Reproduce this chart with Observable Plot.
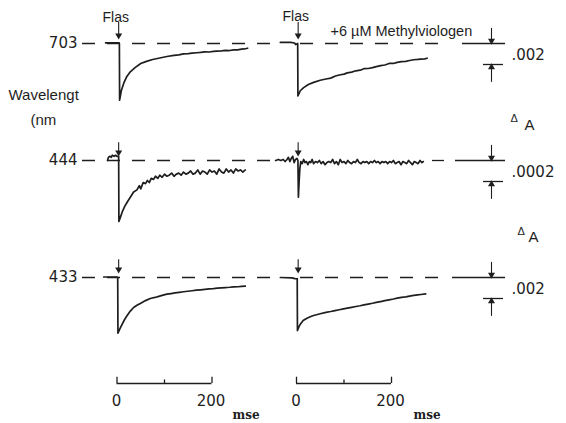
<!DOCTYPE html>
<html><head><meta charset="utf-8">
<script src="https://cdn.jsdelivr.net/npm/d3@7"></script>
<script src="https://cdn.jsdelivr.net/npm/@observablehq/plot@0.6"></script>
<style>
html,body{margin:0;padding:0;background:#fff;}
#chart svg{display:block;background:#fff;}
</style></head>
<body><div id="chart"></div>
<script>
// ---------------- DATA ----------------
const wavelengths = ["703", "444", "433"];
const scaleValues = [0.002, 0.0002, 0.002];
const scaleLabels = [".002", ".0002", ".002"];
const timeTicks = [0, 100, 200];
const timeLabels = ["0", "", "200"];
const flashLabel = "Flas";
const conditionLabel = "+6 µM Methylviologen";
const yTitle = ["Wavelengt", "(nm"];
const unitLabel = "mse";

// 703 nm, control (ms, ΔA)
const t703C  = [-24,-12,0,4.5,5,5.5,9,14,20,28,38,50,62,75,90,105,120,130,140,150,158,168,176,185,194,203,211,220,228,237,246,254,262,268,275];
const dA703C = [0.00006,0.00006,0.00006,0.00006,0,-0.0054,-0.0045,-0.0038,-0.0032,-0.0027,-0.0023,-0.0019,-0.0017,-0.00152,-0.00138,-0.00124,-0.00113,-0.00108,-0.00099,-0.00096,-0.00092,-0.00088,-0.00085,-0.00079,-0.00081,-0.00075,-0.00072,-0.00071,-0.00066,-0.00067,-0.0006,-0.00061,-0.00054,-0.00052,-0.00045];
// 703 nm, + methylviologen
const t703M  = [-34,-12,-4,-2,2.5,3,8,15,25,36,50,62,72,82,90,100,107,116,125,134,142,151,160,168,177,186,195,204,212,221,230,238,247,255,262,270,275];
const dA703M = [0.0001,0.0001,0.00005,-0.0001,0,-0.0050,-0.0045,-0.0042,-0.0039,-0.0037,-0.0035,-0.00338,-0.0033,-0.0031,-0.0030,-0.00292,-0.0028,-0.00272,-0.0026,-0.00254,-0.0024,-0.00238,-0.0023,-0.0022,-0.0021,-0.00205,-0.0019,-0.0019,-0.0018,-0.00172,-0.0017,-0.00162,-0.00155,-0.00152,-0.00148,-0.00146,-0.0014];
// 444 nm, control
const t444C  = [-20,-18,-15,-12,-10,-6,-3,0,3.5,4,8,11,16,21,28,35,42,47,50,55,60,64,68,72,77,81,86,90,95,100,105,110,115,120,125,130,135,140,145,150,155,160,165,170,175,180,185,190,195,200,205,210,215,220,225,230,235,240,245,250,255,260,265,270];
const dA444C = [0,0.00003,0.00004,0.00003,0.00005,0.00004,0.00005,0.00004,0.00004,-0.00058,-0.00053,-0.00049,-0.00044,-0.00040,-0.00035,-0.00030,-0.00028,-0.00024,-0.00027,-0.00021,-0.00022,-0.00019,-0.00021,-0.00017,-0.00018,-0.00015,-0.00017,-0.00014,-0.00016,-0.00013,-0.00015,-0.00014,-0.00012,-0.00015,-0.00013,-0.00012,-0.00014,-0.00011,-0.00013,-0.00012,-0.00010,-0.00013,-0.00012,-0.00009,-0.00013,-0.00010,-0.00011,-0.00013,-0.00009,-0.00011,-0.00010,-0.00013,-0.00008,-0.00011,-0.00012,-0.00008,-0.00011,-0.00009,-0.00012,-0.00008,-0.00010,-0.00009,-0.00011,-0.00009];
// 444 nm, + methylviologen
const t444M  = [-44,-38,-33,-28,-24,-20,-17,-14,-11,-8,-5,-2,1,3,4,5.5,7,9,12,15,18,21,24,27,30,33,36,40,44,48,52,56,60,64,68,72,76,80,84,88,92,96,100,104,108,112,116,120,124,128,132,136,140,144,148,152,156,160,164,168,172,176,180,184,188,192,196,200,204,208,212,216,220,224,228,232,236,240,244,248,252,256,260,264,267];
const dA444M = [0,0.00001,0,0.00001,-0.00001,0.00001,0.00003,-0.00001,0.00002,0.00004,-0.00002,0.00001,0.00002,0,-0.00035,-0.0002,-0.00008,-0.00001,-0.00003,0.00001,-0.00002,-0.00001,-0.00004,-0.00001,-0.00002,0.00001,-0.00003,-0.00001,-0.00002,0,-0.00003,-0.00001,-0.00004,-0.00002,-0.00001,-0.00002,0.00001,-0.00003,-0.00001,-0.00004,0.00001,-0.00002,-0.00001,-0.00003,0,-0.00002,-0.00003,-0.00001,-0.00002,0.00001,-0.00002,-0.00003,-0.00001,-0.00002,-0.00001,-0.00003,-0.00001,-0.00002,0,-0.00002,-0.00001,-0.00003,-0.00001,-0.00002,-0.00001,-0.00003,-0.00001,-0.00002,0,-0.00003,-0.00002,-0.00001,-0.00004,-0.00001,-0.00002,-0.00003,0,-0.00002,-0.00004,-0.00001,-0.00002,-0.00003,0,-0.00002,-0.00001];
// 433 nm, control
const t433C  = [-28,-12,0,1.5,2,6,11,16,21,28,35,42,50,60,70,80,88,97,105,114,122,131,140,149,158,167,176,185,194,203,211,220,228,237,246,255,262,270];
const dA433C = [0.00005,0.00005,0.00004,0,-0.0053,-0.0049,-0.00445,-0.0040,-0.00365,-0.0032,-0.00286,-0.00265,-0.00245,-0.0022,-0.0020,-0.0019,-0.0018,-0.00168,-0.00159,-0.00153,-0.00147,-0.00141,-0.00136,-0.00131,-0.00126,-0.00121,-0.00117,-0.00113,-0.00109,-0.00106,-0.00102,-0.00099,-0.00096,-0.00093,-0.00089,-0.00088,-0.00085,-0.00083];
// 433 nm, + methylviologen
const t433M  = [-34,-10,-3,1,1.5,2,5,8.4,14,22,30,36,50,62,72,81,90,99,107,116,125,134,142,151,160,168,177,186,195,204,212,221,230,238,247,255,262,272];
const dA433M = [0,-0.00003,-0.0001,-0.00012,-0.0001,-0.00505,-0.0047,-0.00442,-0.0041,-0.00388,-0.00372,-0.00362,-0.00345,-0.00332,-0.00324,-0.00315,-0.00307,-0.00299,-0.00292,-0.00284,-0.00276,-0.00269,-0.00261,-0.00253,-0.00245,-0.00237,-0.00229,-0.00221,-0.00213,-0.00205,-0.00197,-0.0019,-0.00184,-0.00177,-0.00171,-0.00166,-0.00162,-0.00156];

// ---------------- LAYOUT ----------------
const W = 566, H = 423;
const PX_PER_MS = 0.475, ORIGIN_PX = 116.5, PX_PER_UNIT = 21;
const RIGHT_ORIGIN_PX = 296;
const RIGHT_OFFSET = (RIGHT_ORIGIN_PX - ORIGIN_PX) / PX_PER_MS;
const ax = px => (px - ORIGIN_PX) / PX_PER_MS;   // page px -> x data (ms)
const ay = py => -py / PX_PER_UNIT;              // page px -> y data (scale units)
const rowBasePx = [43, 160, 277];
const rowBase = rowBasePx.map(ay);
const INK = "#1e1e1e";

const traceDefs = [
  [0, 0, t703C, dA703C], [0, 1, t703M, dA703M],
  [1, 0, t444C, dA444C], [1, 1, t444M, dA444M],
  [2, 0, t433C, dA433C], [2, 1, t433M, dA433M]
];
const traces = [];
traceDefs.forEach(([r, p, ts, ds], k) => {
  ts.forEach((t, i) => traces.push({
    id: k,
    x: t + (p ? RIGHT_OFFSET : 0),
    y: rowBase[r] + ds[i] / scaleValues[r]
  }));
});

// dashed baselines (segments per row)
const dashed = [];
const solidSeg = [];
rowBase.forEach((b, r) => {
  dashed.push({x1: ax(82), x2: ax(280), y: b});
  if (r === 1) dashed.push({x1: ax(432), x2: ax(444), y: b});
  else dashed.push({x1: ax(300), x2: ax(440), y: b});
  solidSeg.push({x1: ax(r === 0 ? 462 : r === 1 ? 455 : 452), x2: ax(505), y: b});
  solidSeg.push({x1: ax(483), x2: ax(503), y: b - 1});
});

// flash arrows
const flashShafts = [], flashHeads = [];
rowBase.forEach((b) => {
  [0, 1].forEach(p => {
    const x = 3.5 + (p ? RIGHT_OFFSET : 0);
    flashShafts.push({x, y1: b + (b === rowBase[0] ? 1.0 : 0.85), y2: b + 0.35});
    flashHeads.push({x, y: b + 0.38});
  });
});
// scale bar arrows
const sbShafts = [], sbDown = [], sbUp = [];
rowBase.forEach(b => {
  const x = ax(491);
  sbShafts.push({x, y1: b + 0.72, y2: b + 0.1});
  sbDown.push({x, y: b + 0.13});
  sbShafts.push({x, y1: b - 1.85, y2: b - 1.1});
  sbUp.push({x, y: b - 1.13});
});

// time scale bars
const barY = ay(383);
const timeBars = [0, RIGHT_OFFSET].map(o => ({x1: o + timeTicks[0], x2: o + timeTicks[2], y: barY}));
const timeTickMarks = [];
[0, RIGHT_OFFSET].forEach(o => timeTicks.forEach((t, i) =>
  timeTickMarks.push({x: o + t, y1: barY, y2: barY + (i === 1 ? 0.17 : 0.3)})));
const timeText = [];
[0, RIGHT_OFFSET].forEach(o => timeTicks.forEach((t, i) => {
  if (timeLabels[i]) timeText.push({x: o + t + (i === 2 ? -2 : -1), y: ay(401), text: timeLabels[i]});
}));

const txt = (data, opts) => Plot.text(data, {x: "x", y: "y", text: "text", fill: INK, ...opts});

const chart = Plot.plot({
  width: W, height: H, margin: 0,
  x: {domain: [ax(0), ax(W)], axis: null},
  y: {domain: [ay(H), ay(0)], axis: null},
  style: {background: "#fff"},
  marks: [
    Plot.ruleY(dashed, {x1: "x1", x2: "x2", y: "y", stroke: INK, strokeWidth: 1.3, strokeDasharray: "13,12"}),
    Plot.ruleY(solidSeg, {x1: "x1", x2: "x2", y: "y", stroke: INK, strokeWidth: 1.3}),
    Plot.line(traces, {x: "x", y: "y", z: "id", stroke: INK, strokeWidth: 1.7, curve: "linear"}),
    Plot.ruleX(flashShafts, {x: "x", y1: "y1", y2: "y2", stroke: INK, strokeWidth: 1.1}),
    Plot.dot(flashHeads, {x: "x", y: "y", symbol: "triangle", rotate: 180, r: 2.6, fill: INK}),
    Plot.ruleX(sbShafts, {x: "x", y1: "y1", y2: "y2", stroke: INK, strokeWidth: 1.1}),
    Plot.dot(sbDown, {x: "x", y: "y", symbol: "triangle", rotate: 180, r: 2.6, fill: INK}),
    Plot.dot(sbUp, {x: "x", y: "y", symbol: "triangle", r: 2.6, fill: INK}),
    Plot.ruleY(timeBars, {x1: "x1", x2: "x2", y: "y", stroke: INK, strokeWidth: 1.3}),
    Plot.ruleX(timeTickMarks, {x: "x", y1: "y1", y2: "y2", stroke: INK, strokeWidth: 1.3}),
    // labels
    txt(wavelengths.map((w, i) => ({x: ax(77), y: rowBase[i], text: w})),
        {textAnchor: "end", fontSize: 15, fontFamily: "DejaVu Sans", letterSpacing: "2px"}),
    txt(scaleLabels.map((s, i) => ({x: ax(511), y: rowBase[i] - 0.55, text: s})),
        {textAnchor: "start", fontSize: 15, fontFamily: "DejaVu Sans", letterSpacing: "2px"}),
    txt([{x: ax(102), y: ay(17), text: flashLabel}, {x: ax(282), y: ay(16), text: flashLabel}],
        {textAnchor: "start", fontSize: 14, fontFamily: "Liberation Sans"}),
    txt([{x: ax(330), y: ay(31), text: conditionLabel}],
        {textAnchor: "start", fontSize: 14.5, fontFamily: "Liberation Sans"}),
    txt([{x: ax(8), y: ay(95), text: yTitle[0]}, {x: ax(30), y: ay(120), text: yTitle[1]}],
        {textAnchor: "start", fontSize: 15, fontFamily: "Liberation Sans"}),
    txt([{x: ax(510), y: ay(118), text: "Δ"}, {x: ax(517), y: ay(231), text: "Δ"}],
        {textAnchor: "start", fontSize: 11, fontFamily: "Liberation Sans"}),
    txt([{x: ax(524), y: ay(125), text: "A"}, {x: ax(528), y: ay(237), text: "A"}],
        {textAnchor: "start", fontSize: 15, fontFamily: "Liberation Sans"}),
    txt(timeText, {textAnchor: "middle", fontSize: 15, fontFamily: "DejaVu Sans", letterSpacing: "2px"}),
    txt([{x: ax(232), y: ay(415), text: unitLabel}, {x: ax(413), y: ay(415), text: unitLabel}],
        {textAnchor: "start", fontSize: 12, fontFamily: "DejaVu Serif", fontWeight: "bold"})
  ]
});
document.getElementById("chart").appendChild(chart);
</script>
</body></html>
